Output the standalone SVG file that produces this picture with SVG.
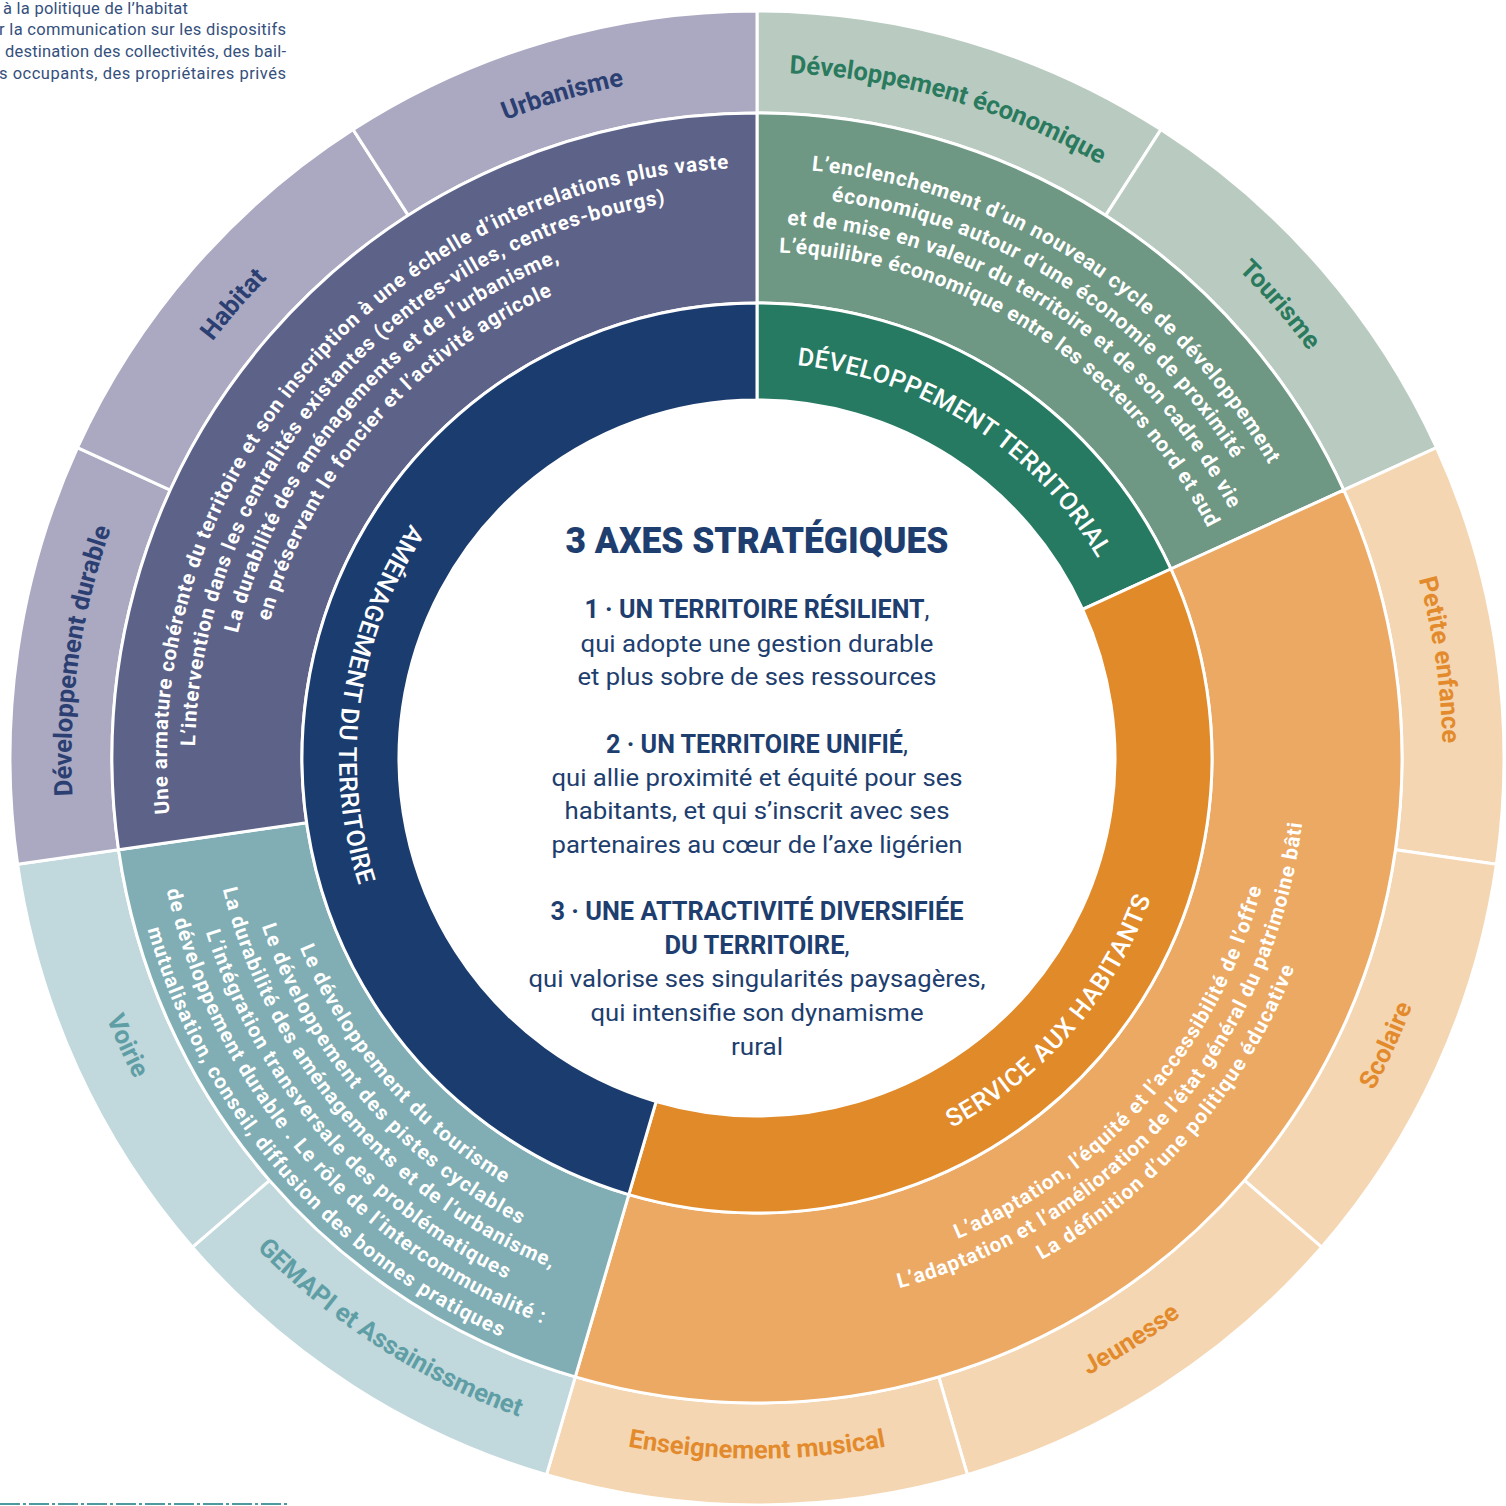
<svg xmlns="http://www.w3.org/2000/svg" width="1506" height="1506" viewBox="0 0 1506 1506">
<style>
.sec{stroke:#fff;stroke-width:3}
.ol{font-family:Roboto,"Liberation Sans",sans-serif;font-weight:700;font-size:25.5px}
.r3{font-family:Roboto,"Liberation Sans",sans-serif;font-weight:700;font-size:20.5px;fill:#fff}
.r3g{font-family:Roboto,"Liberation Sans",sans-serif;font-weight:700;font-size:21px;fill:#fff}
.ax{font-family:Roboto,"Liberation Sans",sans-serif;font-weight:500;font-size:25px;fill:#fff}
.ct{font-family:Roboto,"Liberation Sans",sans-serif;fill:#1d3e6e}
.tl{font-family:Roboto,"Liberation Sans",sans-serif;font-size:16.5px;fill:#35507d}
.c-navy{fill:#2c3f72}.c-green{fill:#2a7a5e}.c-orange{fill:#e38b2c}.c-teal{fill:#5f9ea5}
</style>
<defs>
<path id="cw685" d="M-675.09,-119.04 A685.5,685.5 0 0 1 675.09,-119.04"/>
<path id="ccw700" d="M-689.86,121.64 A700.5,700.5 0 0 0 689.86,121.64"/>
<path id="cw590" d="M-581.04,-102.45 A590,590 0 0 1 581.04,-102.45"/>
<path id="cw562" d="M-553.46,-97.59 A562,562 0 0 1 553.46,-97.59"/>
<path id="cw534" d="M-525.89,-92.73 A534,534 0 0 1 525.89,-92.73"/>
<path id="cw506" d="M-498.31,-87.87 A506,506 0 0 1 498.31,-87.87"/>
<path id="cw395" d="M-389,-68.59 A395,395 0 0 1 389,-68.59"/>
<path id="ccw418" d="M-411.65,72.59 A418,418 0 0 0 411.65,72.59"/>
<path id="ccw495" d="M-487.48,85.96 A495,495 0 0 0 487.48,85.96"/>
<path id="ccw523" d="M-515.06,90.82 A523,523 0 0 0 515.06,90.82"/>
<path id="ccw550" d="M-541.65,95.51 A550,550 0 0 0 541.65,95.51"/>
<path id="ccw578" d="M-569.22,100.37 A578,578 0 0 0 569.22,100.37"/>
<path id="ccw605" d="M-595.81,105.06 A605,605 0 0 0 595.81,105.06"/>
<path id="ccw633" d="M-623.38,109.92 A633,633 0 0 0 623.38,109.92"/>
<path id="ccw521" d="M-513.09,90.47 A521,521 0 0 0 513.09,90.47"/>
<path id="ccw549" d="M-540.66,95.33 A549,549 0 0 0 540.66,95.33"/>
<path id="ccw577" d="M-568.24,100.2 A577,577 0 0 0 568.24,100.2"/>
</defs>
<rect width="1506" height="1506" fill="#fff"/>

<g id="intro-text" class="tl">
<text x="3" y="14" textLength="185">à la politique de l’habitat</text>
<text x="-1" y="35" textLength="287">r la communication sur les dispositifs</text>
<text x="5" y="57" textLength="281">destination des collectivités, des bail-</text>
<text x="-1" y="79" textLength="287">s occupants, des propriétaires privés</text>
</g>
<line x1="0" y1="1504" x2="287" y2="1504" stroke="#4f9aa0" stroke-width="2" stroke-dasharray="20 3 3 3"/>

<g transform="translate(757,758)">
<!-- outer ring -->
<g id="outer-dev-eco"><path class="sec" fill="#b9cbc1" d="M0,-747 A747,747 0 0 1 403.86,-628.41 L348.71,-542.61 A645,645 0 0 0 0,-645 Z"/>
<text class="ol c-green" text-anchor="middle" transform="rotate(16.364)"><textPath href="#cw685" startOffset="50%">Développement économique</textPath></text></g>
<g id="outer-tourisme"><path class="sec" fill="#b9cbc1" d="M403.86,-628.41 A747,747 0 0 1 679.49,-310.31 L586.71,-267.94 A645,645 0 0 0 348.71,-542.61 Z"/>
<text class="ol c-green" text-anchor="middle" transform="rotate(49.091)"><textPath href="#cw685" startOffset="50%">Tourisme</textPath></text></g>
<g id="outer-petite-enfance"><path class="sec" fill="#f5d6b2" d="M679.49,-310.31 A747,747 0 0 1 739.4,106.31 L638.43,91.79 A645,645 0 0 0 586.71,-267.94 Z"/>
<text class="ol c-orange" text-anchor="middle" transform="rotate(81.818)"><textPath href="#cw685" startOffset="50%">Petite enfance</textPath></text></g>
<g id="outer-scolaire"><path class="sec" fill="#f5d6b2" d="M739.4,106.31 A747,747 0 0 1 564.55,489.18 L487.46,422.38 A645,645 0 0 0 638.43,91.79 Z"/>
<text class="ol c-orange" text-anchor="middle" transform="rotate(-65.455)"><textPath href="#ccw700" startOffset="50%">Scolaire</textPath></text></g>
<g id="outer-jeunesse"><path class="sec" fill="#f5d6b2" d="M564.55,489.18 A747,747 0 0 1 210.45,716.74 L181.72,618.87 A645,645 0 0 0 487.46,422.38 Z"/>
<text class="ol c-orange" text-anchor="middle" transform="rotate(-32.727)"><textPath href="#ccw700" startOffset="50%">Jeunesse</textPath></text></g>
<g id="outer-enseignement-musical"><path class="sec" fill="#f5d6b2" d="M210.45,716.74 A747,747 0 0 1 -210.45,716.74 L-181.72,618.87 A645,645 0 0 0 181.72,618.87 Z"/>
<text class="ol c-orange" text-anchor="middle"><textPath href="#ccw700" startOffset="50%">Enseignement musical</textPath></text></g>
<g id="outer-gemapi"><path class="sec" fill="#c1d8dc" d="M-210.45,716.74 A747,747 0 0 1 -564.55,489.18 L-487.46,422.38 A645,645 0 0 0 -181.72,618.87 Z"/>
<text class="ol c-teal" text-anchor="middle" transform="rotate(32.727)"><textPath href="#ccw700" startOffset="50%">GEMAPI et Assainissmenet</textPath></text></g>
<g id="outer-voirie"><path class="sec" fill="#c1d8dc" d="M-564.55,489.18 A747,747 0 0 1 -739.4,106.31 L-638.43,91.79 A645,645 0 0 0 -487.46,422.38 Z"/>
<text class="ol c-teal" text-anchor="middle" transform="rotate(65.455)"><textPath href="#ccw700" startOffset="50%">Voirie</textPath></text></g>
<g id="outer-dev-durable"><path class="sec" fill="#aaa9c1" d="M-739.4,106.31 A747,747 0 0 1 -679.49,-310.31 L-586.71,-267.94 A645,645 0 0 0 -638.43,91.79 Z"/>
<text class="ol c-navy" text-anchor="middle" transform="rotate(-81.818)"><textPath href="#cw685" startOffset="50%">Développement durable</textPath></text></g>
<g id="outer-habitat"><path class="sec" fill="#aaa9c1" d="M-679.49,-310.31 A747,747 0 0 1 -403.86,-628.41 L-348.71,-542.61 A645,645 0 0 0 -586.71,-267.94 Z"/>
<text class="ol c-navy" text-anchor="middle" transform="rotate(-49.091)"><textPath href="#cw685" startOffset="50%">Habitat</textPath></text></g>
<g id="outer-urbanisme"><path class="sec" fill="#aaa9c1" d="M-403.86,-628.41 A747,747 0 0 1 0,-747 L0,-645 A645,645 0 0 0 -348.71,-542.61 Z"/>
<text class="ol c-navy" text-anchor="middle" transform="rotate(-16.364)"><textPath href="#cw685" startOffset="50%">Urbanisme</textPath></text></g>

<!-- description ring -->
<g id="desc-developpement"><path class="sec" fill="#6e9784" d="M0,-645 A645,645 0 0 1 586.71,-267.94 L413.88,-189.01 A455,455 0 0 0 0,-455 Z"/>
<g transform="rotate(32.727)">
<text class="r3g" text-anchor="middle"><textPath href="#cw590" startOffset="50%" textLength="565">L’enclenchement d’un nouveau cycle de développement</textPath></text>
<text class="r3g" text-anchor="middle"><textPath href="#cw562" startOffset="50%" textLength="493">économique autour d’une économie de proximité</textPath></text>
<text class="r3g" text-anchor="middle"><textPath href="#cw534" startOffset="50%" textLength="550">et de mise en valeur du territoire et de son cadre de vie</textPath></text>
<text class="r3g" text-anchor="middle"><textPath href="#cw506" startOffset="50%" textLength="534">L’équilibre économique entre les secteurs nord et sud</textPath></text>
</g></g>
<g id="desc-service"><path class="sec" fill="#eba963" d="M586.71,-267.94 A645,645 0 0 1 -181.72,618.87 L-128.19,436.57 A455,455 0 0 0 413.88,-189.01 Z"/>
<g transform="rotate(-49.091)">
<text class="r3" text-anchor="middle"><textPath href="#ccw521" startOffset="50%" textLength="481">L’adaptation, l’équité et l’accessibilité de l’offre</textPath></text>
<text class="r3" text-anchor="middle"><textPath href="#ccw549" startOffset="50%" textLength="653">L’adaptation et l’amélioration de l’état général du patrimoine bâti</textPath></text>
<text class="r3" text-anchor="middle"><textPath href="#ccw577" startOffset="50%" textLength="394">La définition d’une politique éducative</textPath></text>
</g></g>
<g id="desc-environnement"><path class="sec" fill="#80aeb4" d="M-181.72,618.87 A645,645 0 0 1 -638.43,91.79 L-450.37,64.75 A455,455 0 0 0 -128.19,436.57 Z"/>
<g transform="rotate(49.091)">
<text class="r3" text-anchor="middle"><textPath href="#ccw495" startOffset="50%" textLength="318">Le développement du tourisme</textPath></text>
<text class="r3" text-anchor="middle"><textPath href="#ccw523" startOffset="50%" textLength="405">Le développement des pistes cyclables</textPath></text>
<text class="r3" text-anchor="middle"><textPath href="#ccw550" startOffset="50%" textLength="521">La durabilité des aménagements et de l’urbanisme,</textPath></text>
<text class="r3" text-anchor="middle"><textPath href="#ccw578" startOffset="50%" textLength="472">L’intégration transversale des problématiques</textPath></text>
<text class="r3" text-anchor="middle"><textPath href="#ccw605" startOffset="50%" textLength="598">de développement durable . Le rôle de l’intercommunalité :</textPath></text>
<text class="r3" text-anchor="middle"><textPath href="#ccw633" startOffset="50%" textLength="557">mutualisation, conseil, diffusion des bonnes pratiques</textPath></text>
</g></g>
<g id="desc-amenagement"><path class="sec" fill="#5d6388" d="M-638.43,91.79 A645,645 0 0 1 0,-645 L0,-455 A455,455 0 0 0 -450.37,64.75 Z"/>
<g transform="rotate(-49.091)">
<text class="r3" text-anchor="middle"><textPath href="#cw590" startOffset="50%" textLength="954">Une armature cohérente du territoire et son inscription à une échelle d’interrelations plus vaste</textPath></text>
<text class="r3" text-anchor="middle"><textPath href="#cw562" startOffset="50%" textLength="779">L’intervention dans les centralités existantes (centres-villes, centres-bourgs)</textPath></text>
<text class="r3" text-anchor="middle"><textPath href="#cw534" startOffset="50%" textLength="511">La durabilité des aménagements et de l’urbanisme,</textPath></text>
<text class="r3" text-anchor="middle"><textPath href="#cw506" startOffset="50%" textLength="446">en préservant le foncier et l’activité agricole</textPath></text>
</g></g>

<!-- axis ring -->
<g id="axis-developpement-territorial"><path class="sec" fill="#267a61" d="M0,-455 A455,455 0 0 1 413.88,-189.01 L325.65,-148.72 A358,358 0 0 0 0,-358 Z"/>
<text class="ax" text-anchor="middle" transform="rotate(32.727)"><textPath href="#cw395" startOffset="50%" textLength="371">DÉVELOPPEMENT TERRITORIAL</textPath></text></g>
<g id="axis-service-aux-habitants"><path class="sec" fill="#e08a29" d="M413.88,-189.01 A455,455 0 0 1 -128.19,436.57 L-100.86,343.5 A358,358 0 0 0 325.65,-148.72 Z"/>
<text class="ax" text-anchor="middle" transform="rotate(-49.091)"><textPath href="#ccw418" startOffset="50%" textLength="311">SERVICE AUX HABITANTS</textPath></text></g>
<g id="axis-amenagement-du-territoire"><path class="sec" fill="#1b3c6e" d="M-128.19,436.57 A455,455 0 0 1 0,-455 L0,-358 A358,358 0 0 0 -100.86,343.5 Z"/>
<text class="ax" text-anchor="middle" transform="rotate(98.182)"><textPath href="#ccw418" startOffset="50%" textLength="378">AMÉNAGEMENT DU TERRITOIRE</textPath></text></g>
</g>

<g id="center" class="ct" text-anchor="middle">
<text x="757" y="553" font-size="36" font-weight="900" textLength="383" lengthAdjust="spacingAndGlyphs">3 AXES STRATÉGIQUES</text>
<text x="757" y="618" font-size="25" font-weight="700" textLength="345" lengthAdjust="spacingAndGlyphs">1 · UN TERRITOIRE RÉSILIENT<tspan font-weight="400">,</tspan></text>
<text x="757" y="652" font-size="24" textLength="353" lengthAdjust="spacingAndGlyphs">qui adopte une gestion durable</text>
<text x="757" y="685" font-size="24" textLength="359" lengthAdjust="spacingAndGlyphs">et plus sobre de ses ressources</text>
<text x="757" y="753" font-size="25" font-weight="700" textLength="302" lengthAdjust="spacingAndGlyphs">2 · UN TERRITOIRE UNIFIÉ<tspan font-weight="400">,</tspan></text>
<text x="757" y="786" font-size="24" textLength="411" lengthAdjust="spacingAndGlyphs">qui allie proximité et équité pour ses</text>
<text x="757" y="819" font-size="24" textLength="385" lengthAdjust="spacingAndGlyphs">habitants, et qui s’inscrit avec ses</text>
<text x="757" y="853" font-size="24" textLength="411" lengthAdjust="spacingAndGlyphs">partenaires au cœur de l’axe ligérien</text>
<text x="757" y="920" font-size="25" font-weight="700" textLength="413" lengthAdjust="spacingAndGlyphs">3 · UNE ATTRACTIVITÉ DIVERSIFIÉE</text>
<text x="757" y="954" font-size="25" font-weight="700" textLength="185" lengthAdjust="spacingAndGlyphs">DU TERRITOIRE<tspan font-weight="400">,</tspan></text>
<text x="757" y="987" font-size="24" textLength="457" lengthAdjust="spacingAndGlyphs">qui valorise ses singularités paysagères,</text>
<text x="757" y="1021" font-size="24" textLength="333" lengthAdjust="spacingAndGlyphs">qui intensifie son dynamisme</text>
<text x="757" y="1055" font-size="24" textLength="52" lengthAdjust="spacingAndGlyphs">rural</text>
</g>
<g id="connectors"/>
</svg>
